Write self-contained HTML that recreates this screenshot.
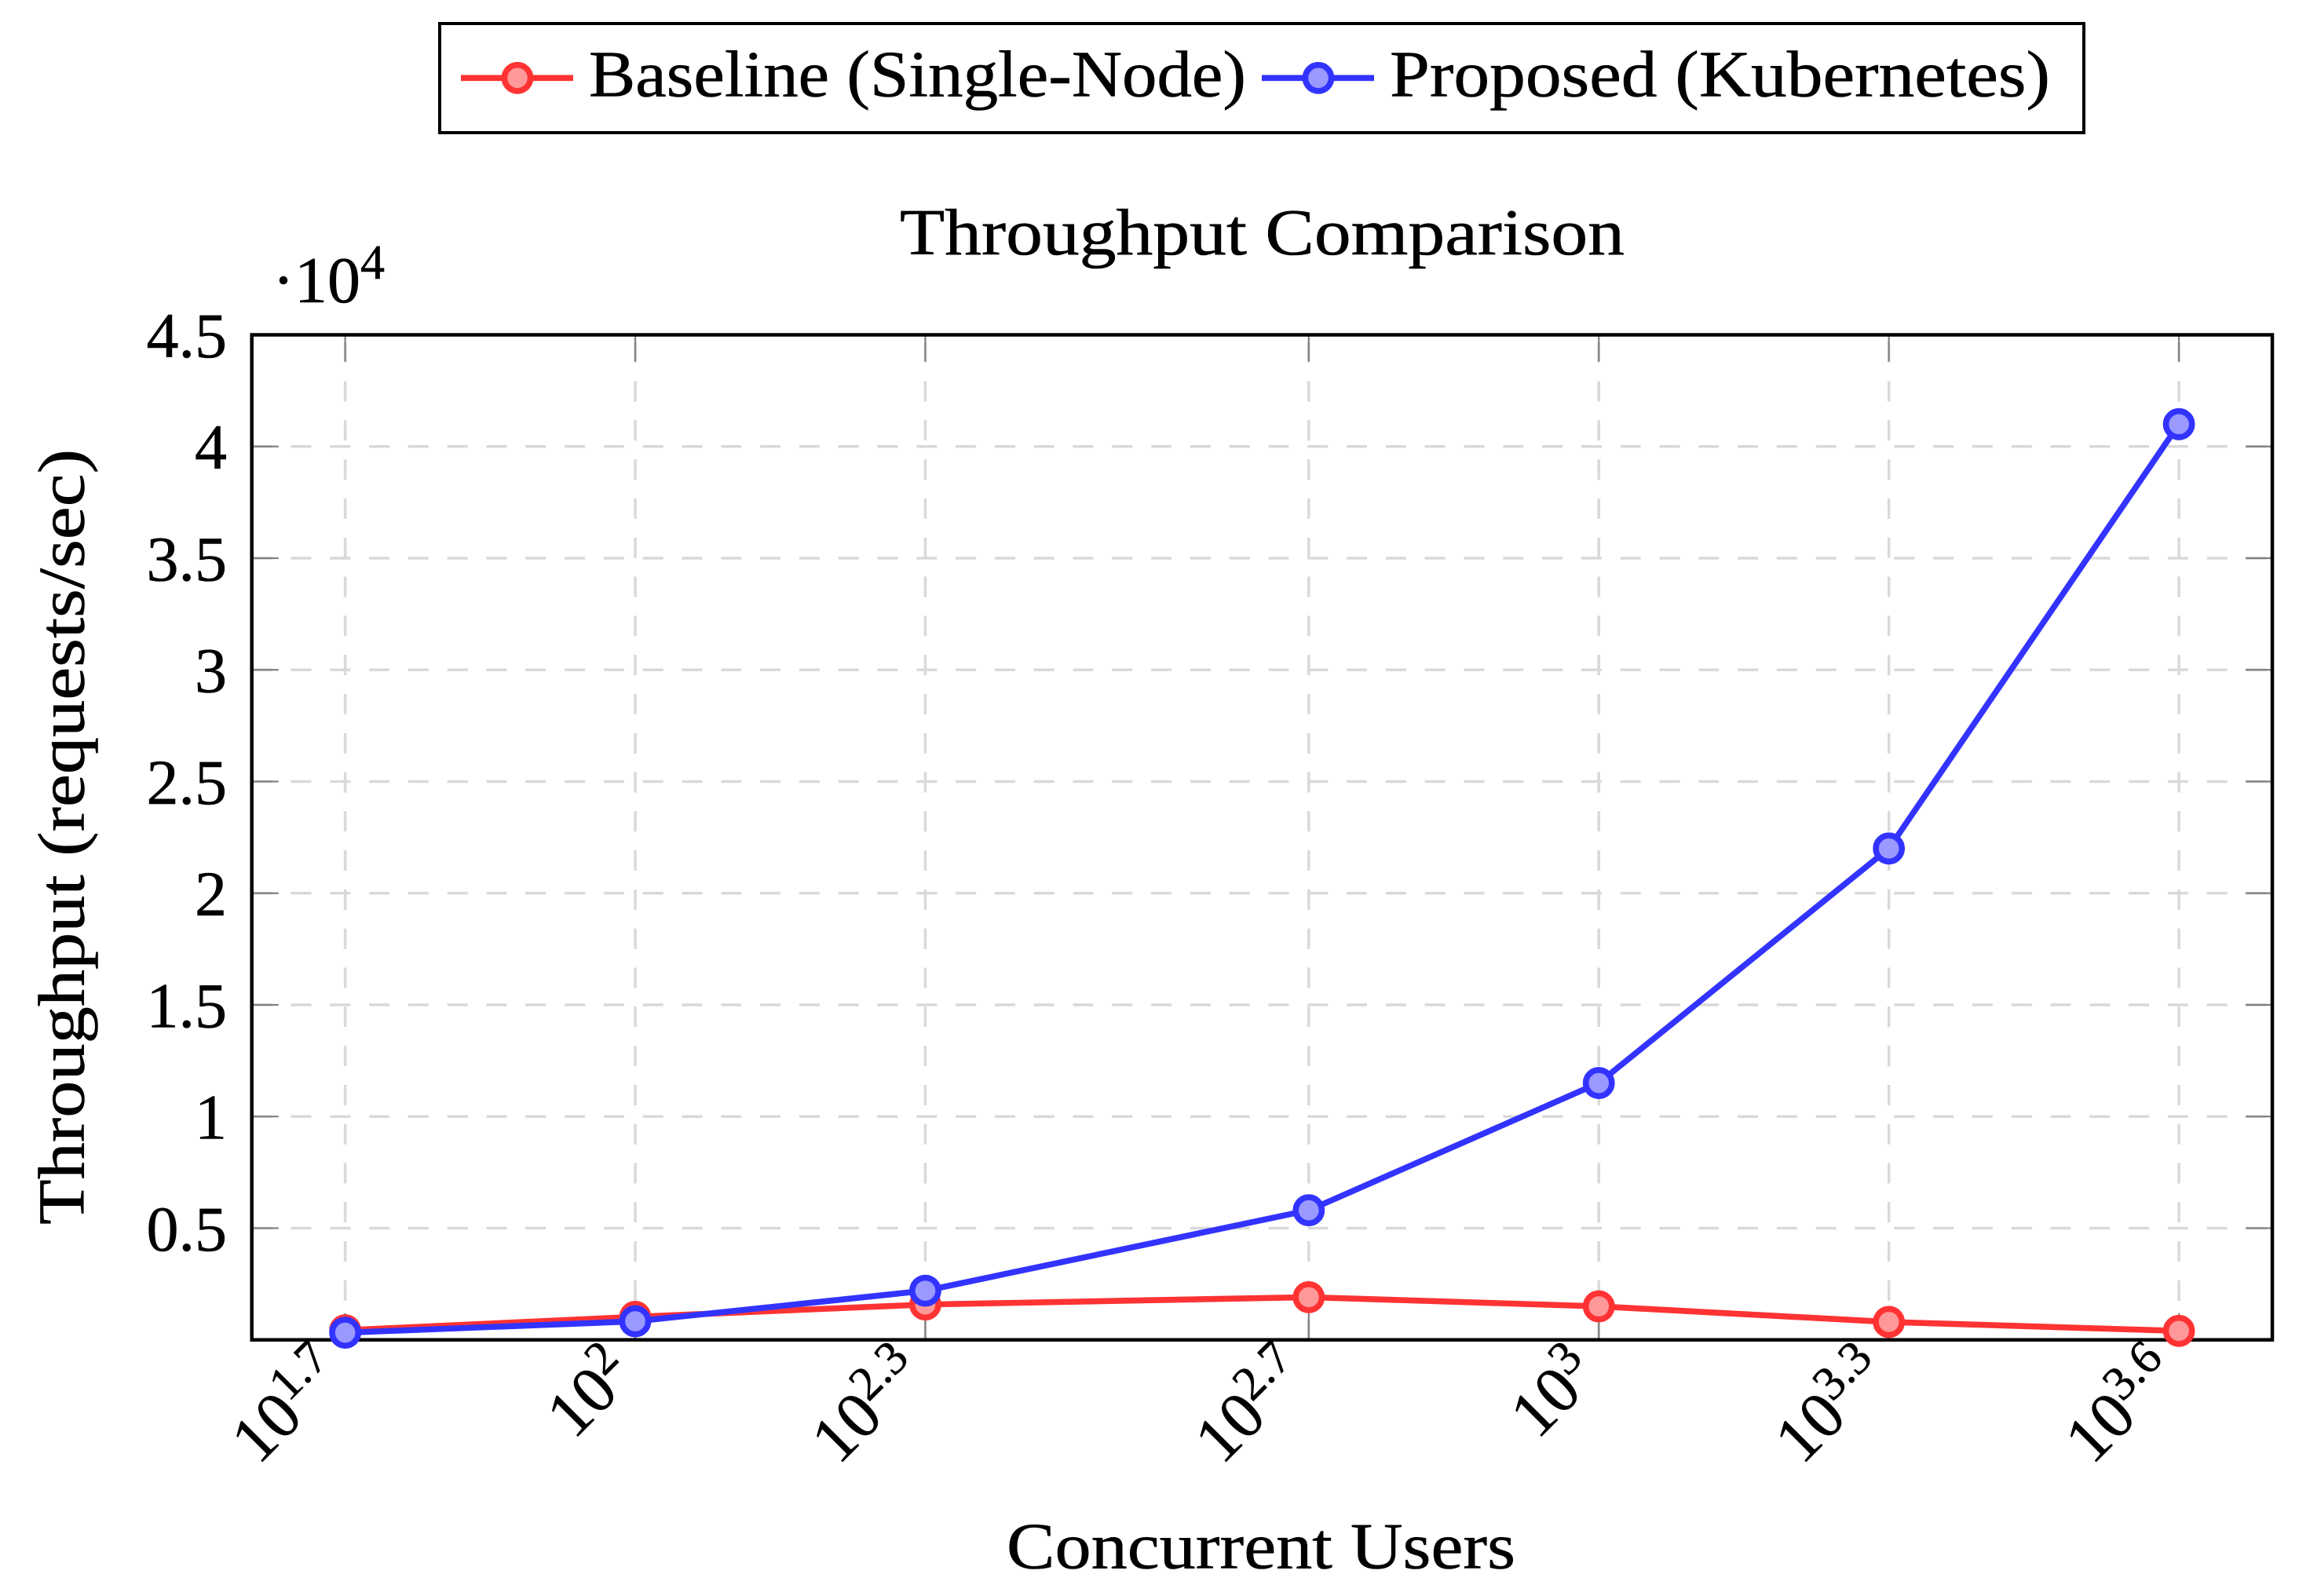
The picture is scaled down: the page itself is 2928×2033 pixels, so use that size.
<!DOCTYPE html>
<html lang="en">
<head>
<meta charset="utf-8">
<title>Throughput Comparison</title>
<style>
html,body{margin:0;padding:0;background:#fff;}
svg{display:block;}
text{font-family:"Liberation Serif",serif;fill:#000;stroke:#000;stroke-width:0.6px;}
</style>
</head>
<body>
<svg id="chart" xmlns="http://www.w3.org/2000/svg" width="2928" height="2033" viewBox="0 0 2928 2033">
  <rect x="0" y="0" width="2928" height="2033" fill="#fff"/>
  <g id="grid"></g>
  <g id="ticks"></g>
  <g id="tick-labels"></g>
  <g id="series"></g>
  <rect x="320.7" y="426.5" width="2573.3" height="1280.2" fill="none" stroke="#000" stroke-width="4.5"/>
  <g id="series-top"></g>

  <text x="1146" y="324" font-size="84" textLength="923" lengthAdjust="spacingAndGlyphs">Throughput Comparison</text>
  <text x="1282" y="1997.7" font-size="84" textLength="648" lengthAdjust="spacingAndGlyphs">Concurrent Users</text>
  <text transform="translate(106.7,1560) rotate(-90)" x="0" y="0" font-size="84" textLength="988" lengthAdjust="spacingAndGlyphs">Throughput (requests/sec)</text>
  <text x="347" y="385" font-size="84">·10<tspan font-size="62" dy="-30">4</tspan></text>

  <g>
    <rect x="560" y="30" width="2094" height="139" fill="#fff" stroke="#000" stroke-width="4"/>
    <g>
      <line x1="587" y1="99.3" x2="730" y2="99.3" stroke="#ff3333" stroke-width="7.6"/>
      <circle cx="659" cy="99.3" r="16.6" fill="#ff9999" stroke="#ff3333" stroke-width="7.6"/>
      <text x="750" y="122.7" font-size="84" textLength="837" lengthAdjust="spacingAndGlyphs">Baseline (Single-Node)</text>
    </g>
    <g>
      <line x1="1607" y1="99.3" x2="1750" y2="99.3" stroke="#3333ff" stroke-width="7.6"/>
      <circle cx="1679" cy="99.3" r="16.6" fill="#9999ff" stroke="#3333ff" stroke-width="7.6"/>
      <text x="1770" y="122.7" font-size="84" textLength="841" lengthAdjust="spacingAndGlyphs">Proposed (Kubernetes)</text>
    </g>
  </g>
</svg>
<script>
// Chart data
const users = [50, 100, 200, 500, 1000, 2000, 4000];
const baselineThroughput = [430, 1030, 1580, 1910, 1500, 800, 400];
const proposedThroughput = [320, 830, 2200, 5800, 11500, 22000, 41000];
const xTickExponents = ["1.7", "2", "2.3", "2.7", "3", "3.3", "3.6"];
const yTickValues = [5000, 10000, 15000, 20000, 25000, 30000, 35000, 40000, 45000];
const yTickLabels = ["0.5", "1", "1.5", "2", "2.5", "3", "3.5", "4", "4.5"];
const xDomain = [40, 5000];
const yDomain = [0, 45000];

// Axis functions
const plot = {left: 320.7, right: 2894, top: 426.5, bottom: 1706.7};
function xScale(v) {
  const a = Math.log10(xDomain[0]), b = Math.log10(xDomain[1]);
  return plot.left + (Math.log10(v) - a) / (b - a) * (plot.right - plot.left);
}
function yScale(v) {
  return plot.bottom - (v - yDomain[0]) / (yDomain[1] - yDomain[0]) * (plot.bottom - plot.top);
}

const NS = "http://www.w3.org/2000/svg";
function make(tag, attrs, parent) {
  const n = document.createElementNS(NS, tag);
  for (const k in attrs) n.setAttribute(k, attrs[k]);
  parent.appendChild(n);
  return n;
}
const gridG = document.getElementById("grid");
const ticksG = document.getElementById("ticks");
const labelsG = document.getElementById("tick-labels");
const seriesG = document.getElementById("series");
const topG = document.getElementById("series-top");
const gridStyle = {stroke: "#d9d9d9", "stroke-width": 3.5, "stroke-dasharray": "26 23.8", fill: "none"};
const tickStyle = {stroke: "#808080", "stroke-width": 2.2};
const tickLen = 34;

users.forEach(function (u, i) {
  const x = xScale(u);
  const g = make("line", Object.assign({x1: x, y1: plot.bottom, x2: x, y2: plot.top}, gridStyle), gridG);
  
  
  const t1 = make("line", Object.assign({x1: x, y1: plot.bottom, x2: x, y2: plot.bottom - tickLen}, tickStyle), ticksG);
  
  
  const t2 = make("line", Object.assign({x1: x, y1: plot.top, x2: x, y2: plot.top + tickLen}, tickStyle), ticksG);
  
  

  const ax = x - 18.5, ay = plot.bottom + 26;
  const label = make("text", {"font-size": 84, "text-anchor": "end", transform: "translate(" + ax + "," + ay + ") rotate(-45)"}, labelsG);
  
  
  const base = make("tspan", {dy: 30}, label);
  base.textContent = "10";
  const sup = make("tspan", {"font-size": 61, dy: -30}, label);
  sup.textContent = xTickExponents[i];
});

yTickValues.forEach(function (v, i) {
  const y = yScale(v);
  const g = make("line", Object.assign({x1: plot.left, y1: y, x2: plot.right, y2: y}, gridStyle), gridG);
  
  
  const t1 = make("line", Object.assign({x1: plot.left, y1: y, x2: plot.left + tickLen, y2: y}, tickStyle), ticksG);
  
  
  const t2 = make("line", Object.assign({x1: plot.right, y1: y, x2: plot.right - tickLen, y2: y}, tickStyle), ticksG);
  
  
  const label = make("text", {x: 289, y: y + 28.5, "font-size": 82, "text-anchor": "end"}, labelsG);
  
  
  label.textContent = yTickLabels[i];
});

function drawLine(values, color, name) {
  const pts = users.map(function (u, i) { return xScale(u) + "," + yScale(values[i]); }).join(" ");
  const line = make("polyline", {points: pts, fill: "none", stroke: color, "stroke-width": 7.6, "stroke-linejoin": "round"}, topG);
  
  
}
function drawMarkers(values, color, fill, name) {
  users.forEach(function (u, i) {
    const c = make("circle", {cx: xScale(u), cy: yScale(values[i]), r: 16.6, fill: fill, stroke: color, "stroke-width": 7.6}, topG);
    
    
  });
}
drawLine(baselineThroughput, "#ff3333", "baseline");
drawMarkers(baselineThroughput, "#ff3333", "#ff9999", "baseline");
drawLine(proposedThroughput, "#3333ff", "proposed");
drawMarkers(proposedThroughput, "#3333ff", "#9999ff", "proposed");
</script>
</body>
</html>
